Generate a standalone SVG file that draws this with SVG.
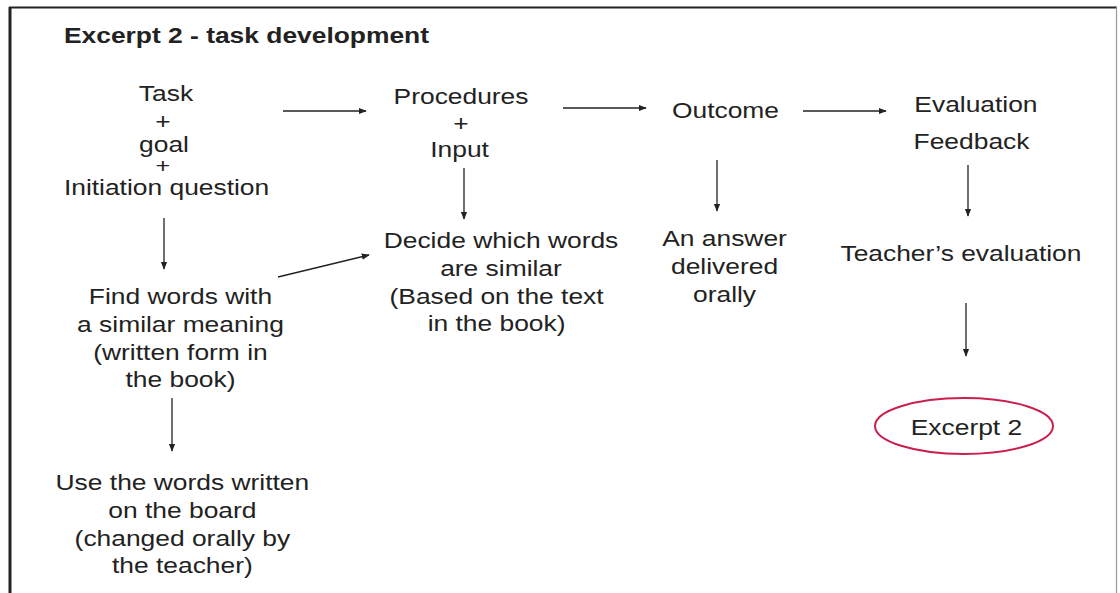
<svg xmlns="http://www.w3.org/2000/svg" width="1120" height="593" viewBox="0 0 1120 593">
<style>
text{font-family:"Liberation Sans",Arial,sans-serif;font-size:22px;fill:#222;text-anchor:middle}
.title{font-weight:bold;text-anchor:start}
.c line{stroke:#222;stroke-width:1.3;marker-end:url(#ah)}
</style>
<defs>
<marker id="ah" viewBox="0 0 10 10" refX="9" refY="5" markerWidth="8" markerHeight="8" markerUnits="userSpaceOnUse" orient="auto">
<path d="M0,1 L10,5 L0,9 z" fill="#222"/>
</marker>
</defs>
<rect width="1120" height="593" fill="#fff"/>
<line x1="10" y1="7" x2="10" y2="593" stroke="#222" stroke-width="3"/>
<line x1="9" y1="7.5" x2="1117" y2="7.5" stroke="#222" stroke-width="2"/>
<line x1="1116.5" y1="7" x2="1116.5" y2="593" stroke="#999" stroke-width="1.2"/>
<g transform="scale(1.2,1)">
<text class="title" x="53.3" y="43">Excerpt 2 - task development</text>
<g id="task">
<text x="138.3" y="101">Task</text>
<text x="135.8" y="129">+</text>
<text x="136.7" y="152">goal</text>
<text x="135.8" y="173" style="font-size:21px">+</text>
<text x="138.8" y="195">Initiation question</text>
</g>
<g id="procedures">
<text x="384.2" y="104">Procedures</text>
<text x="384.2" y="131">+</text>
<text x="383" y="157">Input</text>
</g>
<g id="outcome"><text x="604.6" y="118">Outcome</text></g>
<g id="evaluation">
<text x="813.3" y="112">Evaluation</text>
<text x="809.6" y="149">Feedback</text>
</g>
<g id="find">
<text x="150.4" y="304">Find words with</text>
<text x="150.4" y="332">a similar meaning</text>
<text x="150.4" y="360">(written form in</text>
<text x="150.4" y="387">the book)</text>
</g>
<g id="use">
<text x="152" y="490">Use the words written</text>
<text x="152" y="518">on the board</text>
<text x="152" y="546">(changed orally by</text>
<text x="152" y="573">the teacher)</text>
</g>
<g id="decide">
<text x="417.5" y="248">Decide which words</text>
<text x="417.5" y="276">are similar</text>
<text x="413.8" y="304">(Based on the text</text>
<text x="413.8" y="331">in the book)</text>
</g>
<g id="answer">
<text x="603.8" y="246">An answer</text>
<text x="603.8" y="274">delivered</text>
<text x="603.8" y="302">orally</text>
</g>
<g id="teacher"><text x="800.8" y="261">Teacher’s evaluation</text></g>
<g id="excerpt">
<text x="805.4" y="435">Excerpt 2</text>
</g>
</g>
<ellipse id="excerpt-oval" cx="964" cy="426" rx="89" ry="28" fill="none" stroke="#c91f4e" stroke-width="2"/>
<g class="c" id="connectors">
<line x1="283" y1="111" x2="366" y2="111"/>
<line x1="563" y1="108" x2="646" y2="108"/>
<line x1="803" y1="111" x2="886" y2="111"/>
<line x1="164" y1="218" x2="164" y2="269"/>
<line x1="278" y1="277" x2="369" y2="255"/>
<line x1="464" y1="168" x2="464" y2="219"/>
<line x1="717" y1="160" x2="717" y2="211"/>
<line x1="968" y1="165" x2="968" y2="216"/>
<line x1="966" y1="303" x2="966" y2="356"/>
<line x1="172" y1="398" x2="172" y2="451"/>
</g>
</svg>
